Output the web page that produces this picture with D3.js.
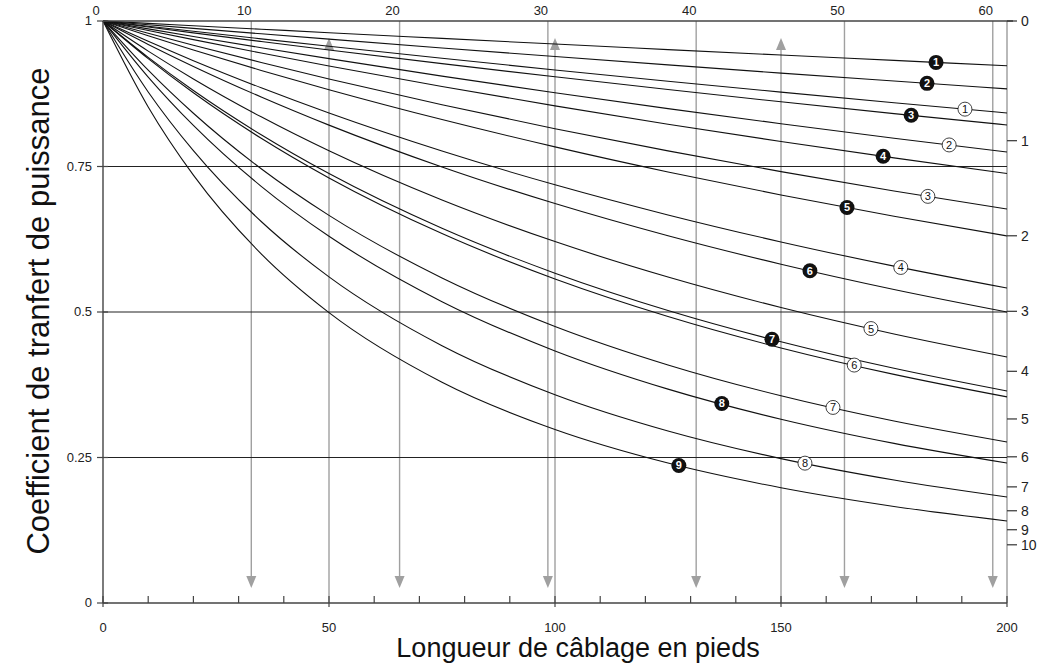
<!DOCTYPE html>
<html>
<head>
<meta charset="utf-8">
<script src="https://cdn.jsdelivr.net/npm/d3@7"></script>
<style>
  body { margin: 0; background: #fff; }
  text { font-family: "Liberation Sans", Arial, sans-serif; }
</style>
</head>
<body>
<div id="chart"></div>
<script>
// cable length samples (feet)
const lengthFt = [0, 10, 20, 35, 50, 75, 100, 125, 150, 175, 200];

// power transfer coefficient for each curve, top to bottom at the right edge
const curveA1 = [1, 0.9959, 0.9919, 0.9859, 0.9799, 0.9701, 0.9604, 0.9509, 0.9415, 0.9323, 0.9231];
const curveA2 = [1, 0.9936, 0.9873, 0.9780, 0.9688, 0.9537, 0.9390, 0.9246, 0.9105, 0.8968, 0.8833];
const curveB1 = [1, 0.9911, 0.9823, 0.9693, 0.9566, 0.9359, 0.9159, 0.8965, 0.8778, 0.8596, 0.8420];
const curveA3 = [1, 0.9897, 0.9796, 0.9648, 0.9502, 0.9267, 0.9041, 0.8823, 0.8612, 0.8409, 0.8214];
const curveB2 = [1, 0.9865, 0.9733, 0.9541, 0.9353, 0.9053, 0.8767, 0.8495, 0.8235, 0.7986, 0.7749];
const curveA4 = [1, 0.9838, 0.9680, 0.9450, 0.9228, 0.8875, 0.8542, 0.8227, 0.7929, 0.7648, 0.7381];
const curveB3 = [1, 0.9788, 0.9583, 0.9287, 0.9004, 0.8561, 0.8150, 0.7768, 0.7412, 0.7080, 0.6770];
const curveA5 = [1, 0.9746, 0.9501, 0.9151, 0.8820, 0.8307, 0.7837, 0.7406, 0.7010, 0.6644, 0.6307];
const curveB4 = [1, 0.9650, 0.9318, 0.8852, 0.8419, 0.7766, 0.7186, 0.6668, 0.6204, 0.5788, 0.5411];
const curveA6 = [1, 0.9598, 0.9220, 0.8694, 0.8211, 0.7492, 0.6863, 0.6310, 0.5821, 0.5387, 0.5000];
const curveB5 = [1, 0.9483, 0.9005, 0.8353, 0.7769, 0.6924, 0.6210, 0.5601, 0.5077, 0.4623, 0.4228];
const curveA7 = [1, 0.9374, 0.8805, 0.8045, 0.7378, 0.6438, 0.5667, 0.5026, 0.4489, 0.4033, 0.3643];
const curveB6 = [1, 0.9353, 0.8766, 0.7985, 0.7303, 0.6347, 0.5567, 0.4922, 0.4383, 0.3928, 0.3541];
const curveB7 = [1, 0.9156, 0.8415, 0.7461, 0.6660, 0.5586, 0.4752, 0.4091, 0.3560, 0.3126, 0.2766];
const curveA8 = [1, 0.9037, 0.8206, 0.7159, 0.6301, 0.5178, 0.4331, 0.3675, 0.3158, 0.2743, 0.2405];
const curveB8 = [1, 0.8781, 0.7772, 0.6555, 0.5604, 0.4422, 0.3578, 0.2955, 0.2481, 0.2113, 0.1821];
const curveA9 = [1, 0.8523, 0.7351, 0.5999, 0.4989, 0.3793, 0.2981, 0.2404, 0.1980, 0.1659, 0.1410];

const curves = [curveA1, curveA2, curveB1, curveA3, curveB2, curveA4, curveB3, curveA5, curveB4,
                curveA6, curveB5, curveA7, curveB6, curveB7, curveA8, curveB8, curveA9];
// curve labels: number, filled (black disc) or outlined, and where along the cable they sit
const labelNumber = [1, 2, 1, 3, 2, 4, 3, 5, 4, 6, 5, 7, 6, 7, 8, 8, 9];
const labelFilled = [true, true, false, true, false, true, false, true, false,
                     true, false, true, false, false, true, false, true];
const labelAtFt = [184.3, 182.3, 190.7, 178.8, 187.2, 172.6, 182.5, 164.6, 176.5,
                   156.4, 169.9, 148.0, 166.2, 161.5, 136.9, 155.3, 127.4];

// axes
const bottomTicks = [0, 50, 100, 150, 200];
const minorTicks = d3.range(0, 201, 10);
const leftTicks = [0, 0.25, 0.5, 0.75, 1];
const gridValues = [0.25, 0.5, 0.75];
const meterTicks = [0, 10, 20, 30, 40, 50, 60];
const dbTicks = [0, 1, 2, 3, 4, 5, 6, 7, 8, 9, 10];
const upArrowFt = [50, 100, 150];

const W = 1039, H = 670;
const svg = d3.select("#chart").append("svg")
  .attr("width", W).attr("height", H);

const x = d3.scaleLinear().domain([0, 200]).range([103, 1007]);
const y = d3.scaleLinear().domain([0, 1]).range([603, 21]);
const ftPerMeter = 1 / 0.3048;
const dbToCoef = db => Math.pow(10, -db / 10);

const gray = "#a0a0a0";

// vertical metre lines with downward arrows
meterTicks.slice(1).forEach(m => {
  const xp = x(m * ftPerMeter);
  svg.append("line")
    .attr("x1", xp).attr("x2", xp)
    .attr("y1", y(1)).attr("y2", 578)
    .attr("stroke", gray).attr("stroke-width", 1.4);
  svg.append("path")
    .attr("d", `M${xp - 5},576 L${xp + 5},576 L${xp},588 Z`)
    .attr("fill", gray);
});

// upward arrows at 50, 100, 150 ft
upArrowFt.forEach(f => {
  const xp = x(f);
  svg.append("line")
    .attr("x1", xp).attr("x2", xp)
    .attr("y1", y(0)).attr("y2", 48)
    .attr("stroke", gray).attr("stroke-width", 1.4);
  svg.append("path")
    .attr("d", `M${xp - 5},50 L${xp + 5},50 L${xp},38 Z`)
    .attr("fill", gray);
});

// right dB axis line
svg.append("line")
  .attr("x1", x(200)).attr("x2", x(200))
  .attr("y1", y(1)).attr("y2", y(0))
  .attr("stroke", "#8a8a8a").attr("stroke-width", 1.2);

// horizontal grid
svg.selectAll("line.grid")
  .data(gridValues)
  .enter().append("line")
    .attr("class", "grid")
    .attr("x1", x(0)).attr("x2", x(200))
    .attr("y1", d => y(d)).attr("y2", d => y(d))
    .attr("stroke", "#222").attr("stroke-width", 1.2);

// curves
const line = d3.line()
  .x((d, i) => x(lengthFt[i]))
  .y(d => y(d))
  .curve(d3.curveMonotoneX);

svg.append("g").selectAll("path")
  .data(curves)
  .enter().append("path")
    .attr("d", line)
    .attr("fill", "none")
    .attr("stroke", "#111")
    .attr("stroke-width", 1.1);

// left axis
svg.append("line")
  .attr("x1", x(0)).attr("x2", x(0))
  .attr("y1", y(1)).attr("y2", y(0))
  .attr("stroke", "#444").attr("stroke-width", 1.4);
leftTicks.forEach(v => {
  svg.append("line")
    .attr("x1", x(0) - 6).attr("x2", x(0) + 5)
    .attr("y1", y(v)).attr("y2", y(v))
    .attr("stroke", "#444").attr("stroke-width", 1.2);
  svg.append("text")
    .attr("x", x(0) - 11).attr("y", y(v) + 4)
    .attr("text-anchor", "end")
    .attr("font-size", 13).attr("fill", "#222")
    .text(String(v));
});

// bottom axis
svg.append("line")
  .attr("x1", x(0)).attr("x2", x(200))
  .attr("y1", y(0)).attr("y2", y(0))
  .attr("stroke", "#444").attr("stroke-width", 1.4);
minorTicks.forEach(f => {
  const major = bottomTicks.includes(f);
  svg.append("line")
    .attr("x1", x(f)).attr("x2", x(f))
    .attr("y1", y(0) - 7).attr("y2", y(0) + (major ? 4 : 0))
    .attr("stroke", "#444").attr("stroke-width", 1.2);
});
bottomTicks.forEach(f => {
  svg.append("text")
    .attr("x", x(f)).attr("y", 632)
    .attr("text-anchor", "middle")
    .attr("font-size", 13).attr("fill", "#222")
    .text(f);
});

// top metre axis
svg.append("line")
  .attr("x1", x(0)).attr("x2", x(200) + 6)
  .attr("y1", y(1)).attr("y2", y(1))
  .attr("stroke", "#444").attr("stroke-width", 1.4);
meterTicks.forEach(m => {
  svg.append("text")
    .attr("x", x(m * ftPerMeter) - 7).attr("y", 15)
    .attr("text-anchor", "middle")
    .attr("font-size", 13).attr("fill", "#222")
    .text(m);
});

// right dB ticks
dbTicks.forEach(db => {
  const yp = y(dbToCoef(db));
  svg.append("line")
    .attr("x1", x(200)).attr("x2", x(200) + 10)
    .attr("y1", yp).attr("y2", yp)
    .attr("stroke", "#333").attr("stroke-width", 1.2);
  svg.append("text")
    .attr("x", x(200) + 14).attr("y", yp + 5)
    .attr("font-size", 14).attr("fill", "#222")
    .text(db);
});

// curve labels
function valueAt(curve, f) {
  const i = Math.min(d3.bisectRight(lengthFt, f), lengthFt.length - 1);
  const t = (f - lengthFt[i - 1]) / (lengthFt[i] - lengthFt[i - 1]);
  return curve[i - 1] + t * (curve[i] - curve[i - 1]);
}
curves.forEach((c, i) => {
  const g = svg.append("g")
    .attr("transform", `translate(${x(labelAtFt[i])},${y(valueAt(c, labelAtFt[i]))})`);
  g.append("circle")
    .attr("r", labelFilled[i] ? 7.5 : 7)
    .attr("fill", labelFilled[i] ? "#111" : "#fff")
    .attr("stroke", "#111").attr("stroke-width", labelFilled[i] ? 0 : 0.8);
  g.append("text")
    .attr("text-anchor", "middle").attr("dy", "0.36em")
    .attr("font-size", 11)
    .attr("font-weight", labelFilled[i] ? "bold" : "normal")
    .attr("fill", labelFilled[i] ? "#fff" : "#111")
    .text(labelNumber[i]);
});

// titles
svg.append("text")
  .attr("x", 578).attr("y", 657)
  .attr("text-anchor", "middle")
  .attr("font-size", 27).attr("fill", "#111")
  .text("Longueur de câblage en pieds");

svg.append("text")
  .attr("transform", `translate(49,311) rotate(-90)`)
  .attr("text-anchor", "middle")
  .attr("font-size", 31).attr("fill", "#111")
  .text("Coefficient de tranfert de puissance");
</script>
</body>
</html>
